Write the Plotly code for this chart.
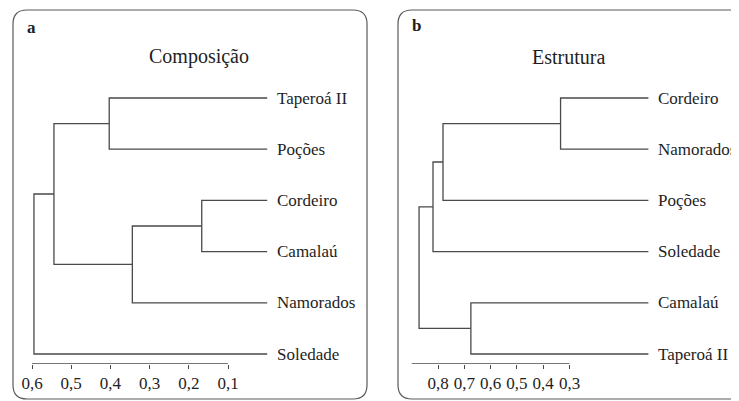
import plotly.graph_objects as go

# ---- data ----
left_leaves = ["Taperoá II", "Poções", "Cordeiro", "Camalaú", "Namorados", "Soledade"]
# merges: (child_a, child_b, height); leaves 0..5, new clusters numbered 6..
left_merges = [(2, 3, 0.167), (6, 4, 0.344), (0, 1, 0.403), (8, 7, 0.544), (9, 5, 0.595)]
left_ticks = [0.6, 0.5, 0.4, 0.3, 0.2, 0.1]
left_ticktext = ["0,6", "0,5", "0,4", "0,3", "0,2", "0,1"]
left_axis_span = [0.6, 0.1]
left_title = "Composição"

right_leaves = ["Cordeiro", "Namorados", "Poções", "Soledade", "Camalaú", "Taperoá II"]
right_merges = [(0, 1, 0.334), (6, 2, 0.781), (7, 3, 0.819), (4, 5, 0.675), (8, 9, 0.872)]
right_ticks = [0.8, 0.7, 0.6, 0.5, 0.4, 0.3]
right_ticktext = ["0,8", "0,7", "0,6", "0,5", "0,4", "0,3"]
right_axis_span = [0.9, 0.3]
right_title = "Estrutura"

WIN_W, WIN_H = 739, 401
OFF = 8  # default page body margin
W, H = WIN_W - OFF, WIN_H - OFF
FONT = "Liberation Serif"
LINE = "#4a4a4a"
TXT = "#1e1e1e"

fig = go.Figure()


def fx(x):
    return (x - OFF) / W


def fy(y):
    return 1 - (y - OFF) / H


def dendro_xy(leaves, merges):
    pos = {i: (0.0, float(i)) for i in range(len(leaves))}
    xs, ys = [], []
    nid = len(leaves)
    for a, b, h in merges:
        xa, ya = pos[a]
        xb, yb = pos[b]
        xs += [xa, h, h, xb, None]
        ys += [ya, ya, yb, yb, None]
        pos[nid] = (h, (ya + yb) / 2)
        nid += 1
    return xs, ys


# window-pixel geometry
LEAF0, STEP, AXIS_PX = 98.0, 51.2, 364.0
Y_TOP = (OFF - LEAF0) / STEP
Y_BOTTOM = (AXIS_PX - LEAF0) / STEP
SPLIT = 369.0


def add_panel(leaves, merges, span, xa, ya):
    xs, ys = dendro_xy(leaves, merges)
    fig.add_trace(go.Scatter(x=xs, y=ys, mode="lines", line=dict(color=LINE, width=1.3),
                             xaxis=xa, yaxis=ya, hoverinfo="skip", showlegend=False))
    fig.add_trace(go.Scatter(x=span, y=[Y_BOTTOM, Y_BOTTOM], mode="lines",
                             line=dict(color=LINE, width=1.3), xaxis=xa, yaxis=ya,
                             hoverinfo="skip", showlegend=False, cliponaxis=False))
    for i, name in enumerate(leaves):
        fig.add_annotation(x=0, y=i, xref=xa, yref=ya, text=name,
                           showarrow=False, xanchor="left", yanchor="middle", xshift=8,
                           font=dict(family=FONT, size=17, color=TXT))


add_panel(left_leaves, left_merges, left_axis_span, "x", "y")
add_panel(right_leaves, right_merges, right_axis_span, "x2", "y2")

lx0 = 0.6 + (32 - OFF) / 392.0
lx1 = 0.6 - (SPLIT - 32) / 392.0
rx0 = 0.8 + (438 - SPLIT) / 263.0
rx1 = 0.8 - (WIN_W - 438) / 263.0

ydom = [fy(AXIS_PX), 1]
axis_font = dict(family=FONT, size=17, color=TXT)
common_x = dict(showgrid=False, zeroline=False, showline=False, ticks="outside", ticklen=4,
                tickwidth=1.3, tickcolor=LINE, tickfont=axis_font, fixedrange=True)
common_y = dict(showgrid=False, zeroline=False, showline=False, showticklabels=False,
                range=[Y_BOTTOM, Y_TOP], domain=ydom, fixedrange=True)

fig.update_layout(
    width=W, height=H, margin=dict(l=0, r=0, t=0, b=0),
    paper_bgcolor="white", plot_bgcolor="rgba(0,0,0,0)",
    font=dict(family=FONT, color=TXT),
    xaxis=dict(domain=[0, fx(SPLIT)], range=[lx0, lx1], tickvals=left_ticks,
               ticktext=left_ticktext, anchor="y", **common_x),
    yaxis=dict(anchor="x", **common_y),
    xaxis2=dict(domain=[fx(SPLIT), 1], range=[rx0, rx1], tickvals=right_ticks,
                ticktext=right_ticktext, anchor="y2", **common_x),
    yaxis2=dict(anchor="x2", **common_y),
)


def pt(x, y):
    return f"{fx(x):.5f},{fy(y):.5f}"


def rounded_box(x0, y0, x1, y1, r):
    p = (f"M {pt(x0 + r, y0)} L {pt(x1 - r, y0)} Q {pt(x1, y0)} {pt(x1, y0 + r)} "
         f"L {pt(x1, y1 - r)} Q {pt(x1, y1)} {pt(x1 - r, y1)} "
         f"L {pt(x0 + r, y1)} Q {pt(x0, y1)} {pt(x0, y1 - r)} "
         f"L {pt(x0, y0 + r)} Q {pt(x0, y0)} {pt(x0 + r, y0)} Z")
    return dict(type="path", xref="paper", yref="paper", path=p,
                line=dict(color="#5a5a5a", width=1.2), layer="below")


fig.add_shape(rounded_box(13, 10, 367, 399, 14))
fig.add_shape(rounded_box(398, 10, 770, 399, 14))

for text, x, y, size in [(left_title, 199, 57, 20), (right_title, 568, 57, 20),
                         ("<b>a</b>", 31, 27, 17), ("<b>b</b>", 416, 26, 17)]:
    fig.add_annotation(x=fx(x), y=fy(y), xref="paper", yref="paper", text=text,
                       showarrow=False, xanchor="center", yanchor="middle",
                       font=dict(family=FONT, size=size, color=TXT))

fig.write_html("out.html")
